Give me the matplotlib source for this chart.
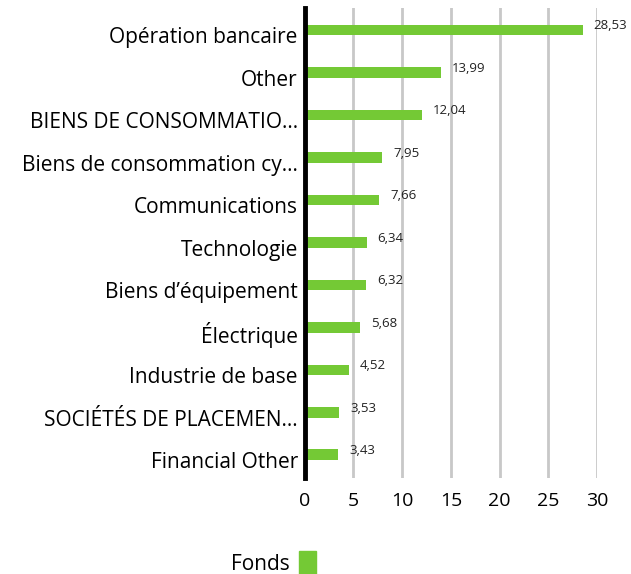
import matplotlib.pyplot as plt
import matplotlib.transforms as mtransforms
from matplotlib.patches import Patch

plt.rcParams["font.family"] = ["Open Sans", "DejaVu Sans"]

categories = [
    "Opération bancaire",
    "Other",
    "BIENS DE CONSOMMATIO...",
    "Biens de consommation cy...",
    "Communications",
    "Technologie",
    "Biens d\u2019équipement",
    "Électrique",
    "Industrie de base",
    "SOCIÉTÉS DE PLACEMEN...",
    "Financial Other",
]
values = [28.53, 13.99, 12.04, 7.95, 7.66, 6.34, 6.32, 5.68, 4.52, 3.53, 3.43]
value_labels = ["28,53", "13,99", "12,04", "7,95", "7,66", "6,34", "6,32", "5,68", "4,52", "3,53", "3,43"]
ticks = [0, 5, 10, 15, 20, 25, 30]

green = "#74c935"

fig = plt.figure(figsize=(6.31, 5.74), dpi=100)
ax = fig.add_axes([0.483, 0.167, 0.463, 0.819])

y = list(range(len(categories)))
ax.barh(y, values, height=0.25, color=green, zorder=3)
for yi, v, lab in zip(y, values, value_labels):
    ax.annotate(lab, (v, yi), xytext=(8, 3), textcoords="offset points",
                ha="left", va="center", fontsize=9.5, color="#222222")

ax.set_yticks(y, categories, fontsize=15)
ax.set_xticks(ticks, [str(t) for t in ticks], fontsize=14)
ax.set_xlim(0, 30)
ax.set_ylim(len(categories) - 0.45, -0.52)
ax.tick_params(axis="both", length=0)
ax.tick_params(axis="y", pad=5)
ax.tick_params(axis="x", pad=10)
shift = mtransforms.ScaledTranslation(0, -3.8 / 72, fig.dpi_scale_trans)
for lbl in ax.get_yticklabels():
    lbl.set_transform(lbl.get_transform() + shift)
for s in ["top", "right", "bottom"]:
    ax.spines[s].set_visible(False)
ax.spines["left"].set_linewidth(3.5)
ax.spines["left"].set_zorder(4)
ax.grid(axis="x", color="#c8c8c8", linewidth=2, zorder=0)
ax.set_axisbelow(True)

fig.legend(handles=[Patch(color=green, label="Fonds")], loc="center",
           bbox_to_anchor=(0.434, 0.019), frameon=False, markerfirst=False,
           fontsize=15, handlelength=0.85, handleheight=1.3, handletextpad=0.4)

fig.savefig("out.png", dpi=100, facecolor="white")
